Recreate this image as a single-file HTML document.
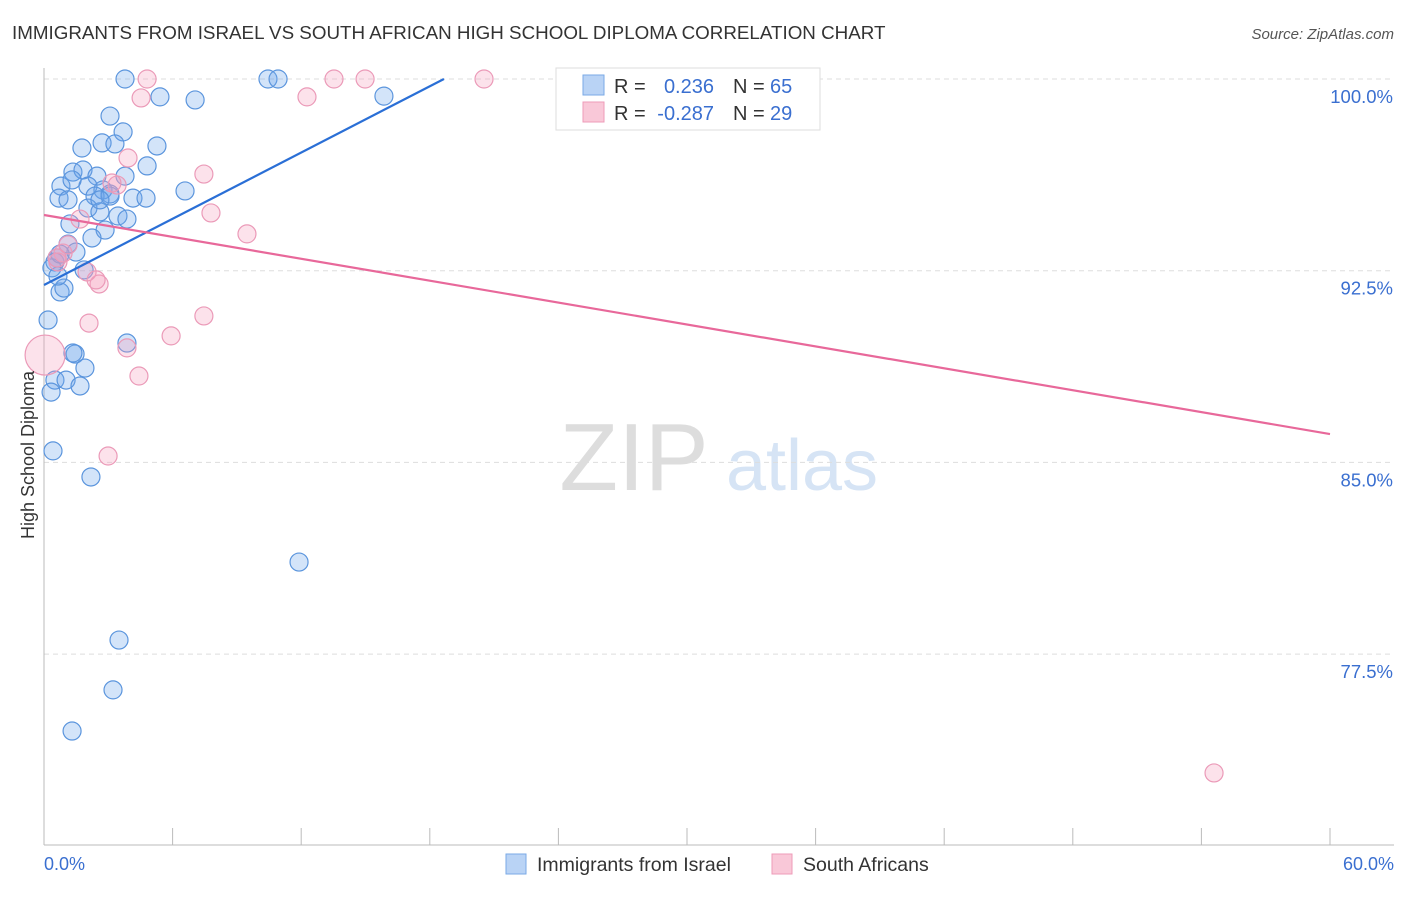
<!DOCTYPE html>
<html><head><meta charset="utf-8"><style>
body{margin:0;background:#fff;font-family:"Liberation Sans",sans-serif;}
svg text{font-family:"Liberation Sans",sans-serif;}
</style></head><body>
<svg id="c" width="1406" height="892" viewBox="0 0 1406 892">
<text x="12" y="39" font-size="18.8" fill="#333">IMMIGRANTS FROM ISRAEL VS SOUTH AFRICAN HIGH SCHOOL DIPLOMA CORRELATION CHART</text>
<text x="1394" y="39" font-size="15" fill="#555" font-style="italic" text-anchor="end">Source: ZipAtlas.com</text>
<g>
<text x="634" y="490" font-size="96" fill="#ddd" text-anchor="middle" font-family="Liberation Serif">ZIP</text>
<text x="802" y="490" font-size="72" fill="#d6e4f5" text-anchor="middle">atlas</text>
</g>
<g id="grid"></g>
<g id="axes"></g>
<g id="pts"></g>
<g id="lines"></g>
<text transform="translate(34,455) rotate(-90)" font-size="18" fill="#333" text-anchor="middle">High School Diploma</text>
<text x="44" y="870" font-size="18" fill="#3a6fd0">0.0%</text>
<text x="1394" y="870" font-size="18" fill="#3a6fd0" text-anchor="end">60.0%</text>
<g>
<rect x="556" y="68" width="264" height="62" fill="#fff" stroke="#ddd"/>
<rect x="583" y="75" width="21" height="20" fill="#b9d3f5" stroke="#7aa9e6"/>
<rect x="583" y="102" width="21" height="20" fill="#f9c8d8" stroke="#ee9bb8"/>
<text x="614" y="93" font-size="20" fill="#333">R =</text>
<text x="714" y="93" font-size="20" fill="#3a6fd0" text-anchor="end">0.236</text>
<text x="733" y="93" font-size="20" fill="#333">N =</text>
<text x="770" y="93" font-size="20" fill="#3a6fd0">65</text>
<text x="614" y="120" font-size="20" fill="#333">R =</text>
<text x="714" y="120" font-size="20" fill="#3a6fd0" text-anchor="end">-0.287</text>
<text x="733" y="120" font-size="20" fill="#333">N =</text>
<text x="770" y="120" font-size="20" fill="#3a6fd0">29</text>
</g>
<g>
<rect x="506" y="854" width="20" height="20" fill="#b9d3f5" stroke="#7aa9e6"/>
<text x="537" y="871" font-size="19.5" fill="#333">Immigrants from Israel</text>
<rect x="772" y="854" width="20" height="20" fill="#f9c8d8" stroke="#ee9bb8"/>
<text x="803" y="871" font-size="19.5" fill="#333">South Africans</text>
</g>
</svg>
<script>
const yTicks=[100,92.5,85,77.5];
const yTickLabels=["100.0%","92.5%","85.0%","77.5%"];
const xTicks=[0,6,12,18,24,30,36,42,48,54,60];
const blueX=[3.78,5.41,7.05,10.45,10.92,15.86,3.08,3.69,5.27,2.71,3.31,1.77,4.81,1.35,1.82,2.47,3.78,0.79,2.05,1.31,2.75,3.08,0.70,1.12,2.38,4.15,4.76,6.58,2.05,2.61,3.45,3.87,1.21,2.85,2.24,1.12,1.49,0.61,0.51,0.37,0.75,0.93,0.65,0.19,1.45,1.35,1.91,0.51,1.03,1.68,0.33,0.42,2.19,3.87,11.90,3.50,3.22,1.31,1.87,0.75,3.08,2.61];
const blueY=[100,99.30,99.18,100,100,99.33,98.55,97.93,97.38,97.50,97.46,97.30,96.60,96.36,96.44,96.20,96.20,95.81,95.81,96.05,95.66,95.50,95.34,95.27,95.42,95.34,95.34,95.62,94.95,94.80,94.64,94.52,94.33,94.09,93.78,93.54,93.23,93.00,92.84,92.61,91.67,91.82,92.29,90.57,89.24,89.28,88.69,88.22,88.22,87.99,87.75,85.45,84.43,89.67,81.10,78.05,76.10,74.49,92.53,93.15,95.42,95.27];
const pinkX=[4.81,13.53,14.98,20.53,33.73,4.53,12.27,3.92,7.46,3.41,7.79,9.47,1.68,0.89,0.65,2.01,2.57,2.10,7.46,5.93,3.87,4.43,2.99,54.59,0.05,0.61,2.43,1.12,3.17];
const pinkY=[100,100,100,100,100,99.26,99.30,96.91,96.28,95.85,94.76,93.94,94.52,93.19,92.84,92.45,91.98,90.45,90.73,89.95,89.48,88.38,85.25,72.85,89.20,93.00,92.14,93.51,95.93];
const blueLine=[[0,91.94],[18.66,100]];
const pinkLine=[[0,94.68],[60,86.11]];
const X=v=>44+v/60*1286, Y=v=>79+(100-v)/7.5*191.7;
const NS="http://www.w3.org/2000/svg";
function mk(t,a,p){const e=document.createElementNS(NS,t);for(const k in a)e.setAttribute(k,a[k]);document.getElementById(p).appendChild(e);return e;}
yTicks.forEach((t,i)=>{
 const g=mk('line',{x1:44,x2:1394,y1:Y(t),y2:Y(t),stroke:'#ddd','stroke-dasharray':'5,4'},'grid');
 
 
 const l=mk('text',{x:1393,y:Y(t)+24,'font-size':18.5,fill:'#3a6fd0','text-anchor':'end'},'grid');
 l.textContent=yTickLabels[i];
 
 
});
const ax=mk('line',{x1:44,x2:44,y1:68,y2:845,stroke:'#bbb'},'axes');


const bx=mk('line',{x1:44,x2:1394,y1:845,y2:845,stroke:'#bbb'},'axes');


xTicks.forEach(t=>{
 const e=mk('line',{x1:X(t),x2:X(t),y1:828,y2:845,stroke:'#bbb'},'axes');
 
 
});
blueX.forEach((v,i)=>{
 const c=mk('circle',{cx:X(v),cy:Y(blueY[i]),r:9,fill:'rgba(110,165,235,0.3)',stroke:'#5b95dd','stroke-width':1.2},'pts');
 
 
});
pinkX.forEach((v,i)=>{
 const c=mk('circle',{cx:X(v),cy:Y(pinkY[i]),r:i==24?20:9,fill:'rgba(245,160,190,0.3)',stroke:'#eb9ab8','stroke-width':1.2},'pts');
 
 
});
const bl=mk('line',{x1:X(blueLine[0][0]),y1:Y(blueLine[0][1]),x2:X(blueLine[1][0]),y2:Y(blueLine[1][1]),stroke:'#2a6fd6','stroke-width':2.2},'lines');


const pl=mk('line',{x1:X(pinkLine[0][0]),y1:Y(pinkLine[0][1]),x2:X(pinkLine[1][0]),y2:Y(pinkLine[1][1]),stroke:'#e8689a','stroke-width':2.2},'lines');


</script>
</body></html>
